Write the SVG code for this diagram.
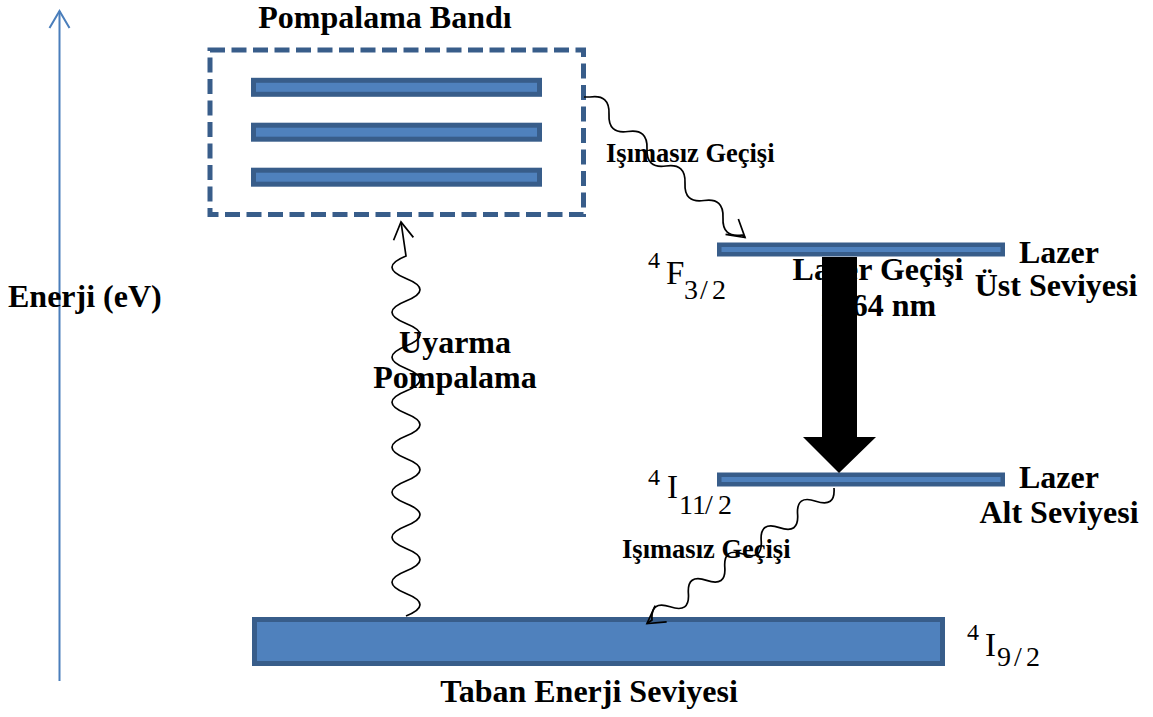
<svg xmlns="http://www.w3.org/2000/svg" width="1153" height="717" viewBox="0 0 1153 717">
<defs>
<style>
.bar{fill:#4f81bd;stroke:#385d8a}
.lbl{font-family:"Liberation Serif","Times New Roman",serif;font-weight:bold;font-size:32px;fill:#000}
.sm{font-size:26.5px}
.term{font-family:"Liberation Serif","Times New Roman",serif;fill:#000}
.wave{fill:none;stroke:#000;stroke-width:1.7}
</style>
<marker id="ah" viewBox="-20 -12 24 24" refX="0" refY="0" markerWidth="24" markerHeight="24" markerUnits="userSpaceOnUse" orient="auto" overflow="visible">
<path d="M -17 -10 L 0 0 L -17 10" fill="none" stroke="#000" stroke-width="1.7"/>
</marker>
<marker id="ahb" viewBox="-18 -11 22 22" refX="0" refY="0" markerWidth="22" markerHeight="22" markerUnits="userSpaceOnUse" orient="auto" overflow="visible">
<path d="M -17 -10 L 0 0 L -17 10" fill="none" stroke="#4a7ebb" stroke-width="2"/>
</marker>
</defs>
<rect width="1153" height="717" fill="#fff"/>

<g id="axis">
<line x1="59.5" y1="681" x2="59.5" y2="11" stroke="#4a7ebb" stroke-width="2" marker-end="url(#ahb)"/>
<text class="lbl" x="8" y="307">Enerji (eV)</text>
</g>

<g id="pump-band">
<rect x="210" y="50" width="373.5" height="164.5" fill="none" stroke="#385d8a" stroke-width="5" stroke-dasharray="15 6.5"/>
<rect class="bar" x="253.5" y="80.3" width="286" height="14" stroke-width="5"/>
<rect class="bar" x="253.5" y="125.2" width="286" height="14" stroke-width="5"/>
<rect class="bar" x="253.5" y="170.2" width="286" height="14" stroke-width="5"/>
<text class="lbl" x="385" y="28" text-anchor="middle" font-size="30">Pompalama Bandı</text>
</g>

<g id="upper-level">
<rect class="bar" x="719.25" y="244.75" width="283.5" height="9.5" stroke-width="4.5"/>
<text class="term"><tspan x="648" y="268" font-size="24">4</tspan><tspan x="666" y="284" font-size="33">F</tspan><tspan x="684" y="299" font-size="28">3</tspan><tspan x="700" y="299" font-size="28">/</tspan><tspan x="712" y="299" font-size="28">2</tspan></text>
<text class="lbl" x="1059" y="263" text-anchor="middle">Lazer</text>
<text class="lbl" x="1056" y="296" text-anchor="middle">Üst Seviyesi</text>
</g>

<g id="lower-level">
<rect class="bar" x="719.25" y="474.75" width="283.5" height="9.5" stroke-width="4.5"/>
<text class="term"><tspan x="648" y="485" font-size="24">4</tspan><tspan x="667" y="498" font-size="33">I</tspan><tspan x="679" y="514" font-size="28">11</tspan><tspan x="705" y="514" font-size="28">/</tspan><tspan x="718" y="514" font-size="28">2</tspan></text>
<text class="lbl" x="1059" y="488" text-anchor="middle">Lazer</text>
<text class="lbl" x="1059" y="523" text-anchor="middle">Alt Seviyesi</text>
</g>

<g id="ground-level">
<rect class="bar" x="254.5" y="619.5" width="688" height="44" stroke-width="5"/>
<text class="term"><tspan x="967" y="640" font-size="24">4</tspan><tspan x="985" y="656" font-size="33">I</tspan><tspan x="997" y="666" font-size="28">9</tspan><tspan x="1014" y="666" font-size="28">/</tspan><tspan x="1026" y="666" font-size="28">2</tspan></text>
<text class="lbl" x="589" y="702" text-anchor="middle">Taban Enerji Seviyesi</text>
</g>

<g id="laser-transition">
<text class="lbl" x="878" y="280" text-anchor="middle">Lazer Geçişi</text>
<text class="lbl" x="878" y="316" text-anchor="middle">1064 nm</text>
<polygon points="822,257 857,257 857,437 876,437 839,473 803,437 822,437" fill="#000"/>
</g>

<g id="connectors">
<path class="wave" d="M 584 97 L 590 97 q 20 -3 19 17.25 t 19 17.25 t 19 17.25 t 19 17.25 t 19 17.25 t 19 17.25 t 19 17.25 t 19 17.25 l 3 2.5" marker-end="url(#ah)"/>
<path class="wave" d="M 406 616 q 28 -11.25 0 -22.5 t 0 -22.5 t 0 -22.5 t 0 -22.5 t 0 -22.5 t 0 -22.5 t 0 -22.5 t 0 -22.5 t 0 -22.5 t 0 -22.5 t 0 -22.5 t 0 -22.5 t 0 -22.5 t 0 -22.5 t 0 -22.5 t 0 -22.5 L 401 222" marker-end="url(#ah)"/>
<path class="wave" d="M 834 488 q 1.5 20 -18.2 13.2 t -18.2 13.2 t -18.2 13.2 t -18.2 13.2 t -18.2 13.2 t -18.2 13.2 t -18.2 13.2 t -18.2 13.2 t -18.2 13.2 t -18.2 13.2 l -5 3.5" marker-end="url(#ah)"/>
</g>

<g id="labels">
<text class="lbl sm" x="606" y="162">Işımasız Geçişi</text>
<text class="lbl sm" x="622" y="558">Işımasız Geçişi</text>
<text class="lbl" x="455" y="353" text-anchor="middle">Uyarma</text>
<text class="lbl" x="455" y="388" text-anchor="middle">Pompalama</text>
</g>
</svg>
